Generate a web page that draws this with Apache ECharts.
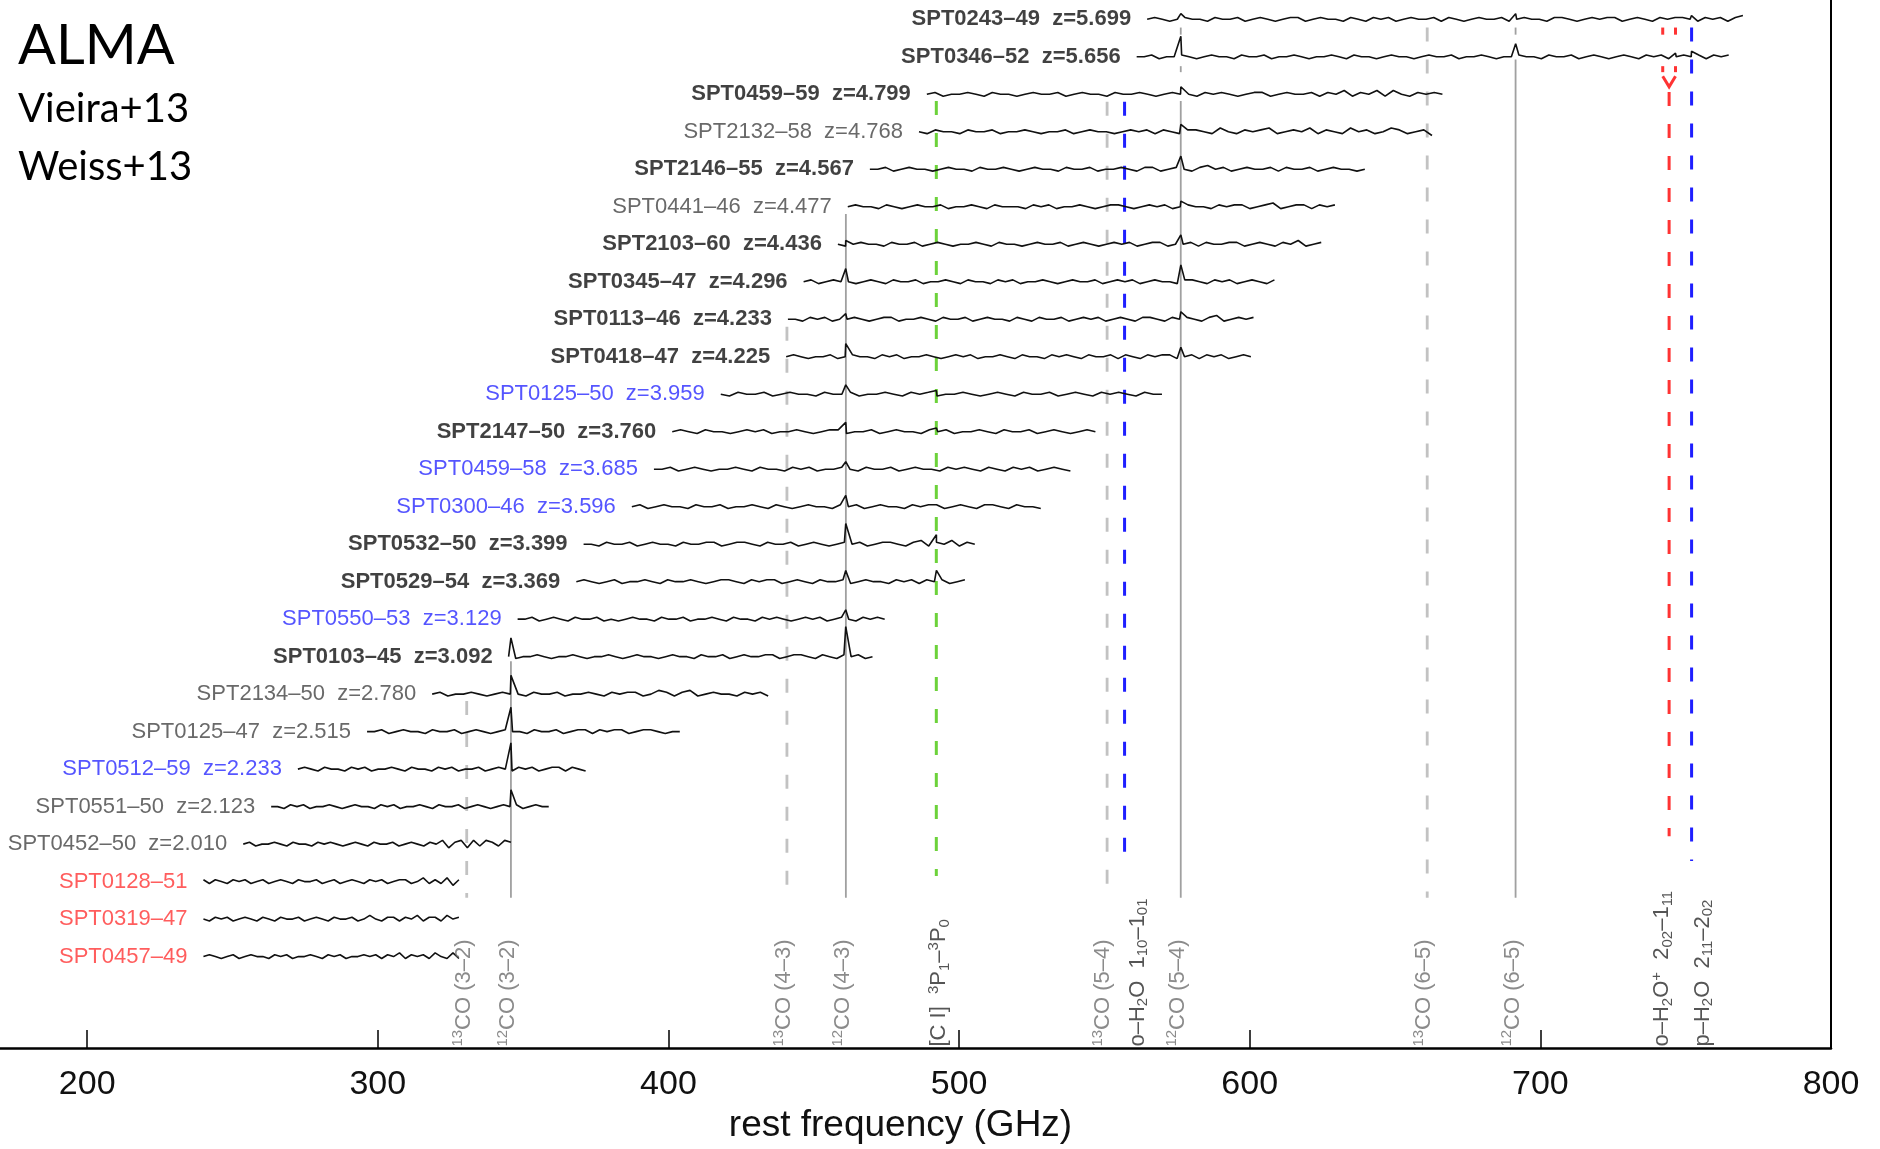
<!DOCTYPE html>
<html><head><meta charset="utf-8">
<script src="https://cdn.jsdelivr.net/npm/echarts@6/dist/echarts.min.js"></script>
<style>html,body{margin:0;padding:0;background:#fff;overflow:hidden}#c{width:100vw;height:100vh}</style>
</head><body><div id="c"></div>
<script>
// ---------------- data ----------------
const names = ['SPT0243–49','SPT0346–52','SPT0459–59','SPT2132–58','SPT2146–55','SPT0441–46','SPT2103–60','SPT0345–47','SPT0113–46','SPT0418–47','SPT0125–50','SPT2147–50','SPT0459–58','SPT0300–46','SPT0532–50','SPT0529–54','SPT0550–53','SPT0103–45','SPT2134–50','SPT0125–47','SPT0512–59','SPT0551–50','SPT0452–50','SPT0128–51','SPT0319–47','SPT0457–49'];
const redshifts = ['5.699','5.656','4.799','4.768','4.567','4.477','4.436','4.296','4.233','4.225','3.959','3.760','3.685','3.596','3.399','3.369','3.129','3.092','2.780','2.515','2.233','2.123','2.010','','',''];
const labelGroups = ['bold','bold','bold','normal','bold','normal','bold','bold','bold','bold','blue','bold','blue','blue','bold','bold','blue','bold','normal','normal','blue','normal','normal','red','red','red'];
// rest-frequency coverage of each spectrum (GHz)
const specStart = [564.7,561.1,488.9,486.2,469.3,461.7,458.3,446.5,441.1,440.5,418.0,401.3,395.0,387.4,370.8,368.3,348.1,345.0,318.7,296.3,272.5,263.3,253.7,240.0,240.0,240.0];
const specEnd   = [769.7,764.8,666.3,662.7,639.6,629.3,624.6,608.5,601.3,600.4,569.8,546.9,538.3,528.1,505.4,502.0,474.4,470.2,434.3,403.9,371.5,358.8,345.8,327.9,327.9,327.9];
// baseline flux samples (arbitrary units), evenly spread over each spectrum
const noise = [
[0,1,0,-1,0,1,0,0,-1,1,0,0,1,-1,0,1,0,-1,0,1,1,-1,0,1,0,0,-1,1,0,-1,1,0,1,-1,0,1,0,0,1,-1,1,0,-1,0,1,0,0,1,-1,0,1,0,0,-1,1,1,0,-1,0,1,0,1,1,-1,0,1,0,-1,1,0,1,1,0,-1,1,0,1,-1,1,2],
[0,0,1,-1,0,0,1,0,-1,0,1,0,0,-1,1,0,0,1,-1,0,0,1,0,-1,0,0,1,0,-1,1,0,0,-1,0,1,0,0,-1,0,1,0,0,1,-1,0,0,1,0,-1,0,0,1,0,0,-1,1,0,0,1,-1,0,1,0,-1,0,1,0,-1,1,0,1,-1,0,1,0,1,-1,1,0,1],
[0,1,-1,0,0,1,0,-1,1,0,0,-1,0,1,0,0,1,-1,0,1,0,0,-1,1,0,0,1,0,-1,0,1,0,0,-1,1,0,1,0,-1,0,1,1,-1,0,1,0,0,1,-1,1,0,2,-1,1,0,2,-1,2,0,-1,1,0,1,0],
[0,-1,1,0,0,-1,1,0,0,1,-1,0,0,1,0,-1,0,0,1,-1,0,1,0,0,-1,0,1,0,1,-1,1,0,-1,1,1,0,-1,2,0,-1,1,0,1,2,-1,0,1,0,2,-1,1,0,-1,2,0,1,-1,0,2,1,-1,0,1,-2],
[0,0,1,-1,0,1,0,0,-1,0,1,0,0,-1,1,0,0,1,0,-1,0,1,0,0,-1,1,0,0,1,-1,0,0,1,0,-1,1,1,-1,0,1,0,-1,1,2,0,1,-1,0,1,0,0,1,-1,1,0,0,1,-1,0,1,0,0,-1,0],
[0,1,0,0,-1,1,0,-1,0,1,0,0,1,-1,0,0,1,0,-1,1,0,0,0,-1,1,0,1,-1,0,0,1,0,-1,0,1,1,0,-1,0,1,0,1,-1,0,1,0,0,-1,1,0,1,1,-1,0,1,2,-1,0,1,1,-1,1,0,1],
[0,-1,0,1,0,0,-1,1,0,0,1,-1,0,1,0,-1,0,0,1,0,-1,1,0,0,-1,0,1,0,0,1,-1,0,1,0,-1,0,1,0,1,-1,0,1,1,-1,0,0,1,-1,1,0,0,1,1,-1,0,1,0,-1,1,0,2,-1,0,1],
[0,1,-1,0,1,0,0,-1,0,1,0,-1,1,0,0,1,-1,0,0,1,0,-1,1,0,0,-1,1,0,1,-1,0,0,1,0,-1,0,1,0,0,1,-1,0,1,0,1,-1,0,1,0,0,-1,1,1,0,-1,1,0,1,-1,0,1,0,-1,1],
[0,0,-1,1,0,1,-1,0,0,1,0,-1,0,1,1,-1,0,0,1,0,-1,1,0,0,1,-1,0,1,0,0,-1,1,0,-1,1,0,0,1,-1,0,1,0,1,-1,0,1,0,-1,1,1,0,-1,1,0,1,0,-1,1,2,-1,0,1,0,1],
[0,1,0,-1,0,0,1,-1,0,1,0,0,-1,1,0,1,-1,0,0,1,0,-1,0,1,0,1,-1,0,0,1,0,-1,1,0,0,-1,1,0,1,0,-1,1,0,0,1,-1,1,0,-1,1,0,1,1,-1,0,1,-1,1,0,1,-1,0,1,0],
[0,-1,1,0,0,1,-1,0,1,0,0,-1,1,0,0,1,-1,0,0,1,0,-1,1,0,1,-1,0,0,1,0,-1,0,1,0,-1,1,0,0,1,-1,0,1,0,-1,1,0,1,0,-1,1,0,0],
[0,1,0,-1,1,0,0,-1,0,1,0,1,-1,0,0,1,0,-1,0,1,1,-1,0,0,1,-1,0,1,0,0,-1,1,0,1,-1,0,0,1,0,-1,1,0,0,1,-1,0,1,0,-1,0,1,0],
[0,0,1,-1,0,1,0,-1,0,0,1,0,-1,1,0,0,-1,1,0,1,-1,0,0,1,0,-1,1,0,0,1,-1,0,1,0,0,-1,1,0,1,0,-1,1,0,-1,1,0,1,-1,0,1,0,-1],
[0,1,-1,0,1,0,0,-1,1,0,0,1,-1,0,0,1,0,-1,1,0,-1,0,1,0,0,-1,1,0,1,-1,0,1,0,0,-1,1,0,1,1,-1,0,1,0,-1,1,1,0,-1,1,0,0,-1],
[0,0,-1,1,0,0,1,-1,0,1,0,0,-1,1,0,0,1,1,-1,0,1,1,0,-1,1,0,0,1,-1,0,1,0,-1,0,1,0,1,-1,0,1,1,0,-1,1,2,-1,1,0,2,-1,1,0],
[0,1,0,-1,0,1,-1,0,0,1,0,-1,1,0,0,1,0,-1,0,1,1,0,-1,1,0,1,1,-1,0,1,0,-1,1,0,0,1,-1,0,1,0,0,-1,1,0,1,-1,1,0,1,-1,0,1],
[0,0,1,-1,0,1,0,-1,1,0,0,1,-1,0,-1,0,1,0,0,-1,1,0,0,1,-1,0,0,1,0,-1,1,0,0,-1,1,0,1,0,-1,0,1,0,1,-1,0,1,0,-1,1,0,1,0],
[0,-1,0,0,1,0,-1,0,0,1,0,-1,0,0,1,0,-1,0,1,0,0,-1,0,1,0,0,-1,1,0,0,1,-1,0,1,0,0,1,1,-1,0,1,1,0,-1,1,0,-1,1,0,1,-1,0],
[0,1,-1,0,0,1,0,-1,0,1,0,0,-1,1,0,0,1,-1,0,0,1,0,-1,1,0,1,1,-1,0,2,1,-1,1,2,-1,0,1,0,0,-1,1,0,1,-1],
[0,0,1,-1,0,1,0,0,-1,1,0,0,1,-1,0,1,0,-1,0,1,0,0,-1,1,0,0,1,-1,0,1,1,-1,1,0,1,1,-1,0,1,1,0,-1,0,0],
[0,1,0,-1,1,0,0,-1,1,0,1,-1,0,0,1,0,-1,1,0,0,-1,1,0,1,-1,0,0,1,-1,0,1,0,-1,1,0,1,-1,0,1,1,-1,1,0,-1],
[0,0,-1,1,0,1,-1,0,0,1,0,-1,0,1,0,0,-1,1,0,1,-1,0,0,1,0,-1,1,0,0,1,-1,0,1,0,-1,0,1,0,1,-1,0,1,0,0],
[0,1,-1,0,0,1,0,-1,1,0,0,-1,1,0,1,0,-1,0,1,0,-1,1,0,0,1,-1,0,1,0,-1,1,0,2,-2,1,2,-2,2,-1,2,1,-1,2,1],
[1,-1,1,0,-1,1,0,1,-1,0,1,-1,0,1,0,-1,1,0,0,1,-1,0,1,-1,0,1,0,-1,1,0,1,-1,0,1,1,-1,0,2,-1,1,-1,2,-2,1],
[0,-1,1,0,1,-1,0,1,0,-1,1,0,-1,1,0,0,1,-1,0,1,0,-1,1,0,0,1,-1,0,2,0,-1,1,1,-1,1,0,2,-1,1,1,-1,2,0,1],
[0,1,0,-1,0,1,-1,0,1,0,0,-1,1,0,1,-1,0,0,1,0,-1,1,0,1,-1,0,0,1,0,1,-1,1,0,2,-1,1,0,1,-1,2,0,-1,2,-1]
];
// emission peaks [rest freq GHz, flux]
const peaks = [
[[576.3,3],[691.5,3],[752.0,2]],
[[576.3,11],[691.5,7],[746.5,2],[752.0,3]],
[[576.3,4]],[[576.3,4]],[[576.3,7]],[[576.3,3]],
[[461.0,2],[576.3,5]],[[461.0,7],[576.3,9]],[[461.0,3],[576.3,4]],[[461.0,7],[576.3,5]],
[[461.0,5],[492.2,2]],[[461.0,5],[492.2,2]],[[461.0,4]],[[461.0,6]],
[[461.0,11],[492.2,5]],[[461.0,6],[492.2,6]],[[461.0,5]],[[345.8,10],[461.0,16]],
[[345.8,10],[407.5,3]],[[345.8,13]],[[345.8,14]],[[345.8,9]],[],[],[],[]
];
// spectral lines
const lineFreqs = [330.588,345.796,440.765,461.041,492.161,550.926,556.936,576.268,661.067,691.473,744.3,752.033];
const lineKinds = ['coDash','coSolid','coDash','coSolid','green','coDash','blue','coSolid','coDash','coSolid','red','blue'];
const lineLabels = [
 '{sup|13}{b|CO (3–2)}','{sup|12}{b|CO (3–2)}','{sup|13}{b|CO (4–3)}','{sup|12}{b|CO (4–3)}',
 '{b|[C I]  }{sup|3}{b|P}{sub|1}{b|–}{sup|3}{b|P}{sub|0}',
 '{sup|13}{b|CO (5–4)}','{b|o–H}{sub|2}{b|O  1}{sub|10}{b|–1}{sub|01}',
 '{sup|12}{b|CO (5–4)}','{sup|13}{b|CO (6–5)}','{sup|12}{b|CO (6–5)}',
 '{b|o–H}{sub|2}{b|O}{sup|+}{b|  2}{sub|02}{b|–1}{sub|11}','{b|p–H}{sub|2}{b|O  2}{sub|11}{b|–2}{sub|02}'
];
const h2oPlusSplit = [742.1, 746.5];
const xTicks = [200,300,400,500,600,700,800];

// ---------------- layout / style ----------------
const SANS = "'Liberation Sans',Arial,sans-serif";
const K = 0.05;              // row units per flux unit
// vertical extent of each line marker (row units)
const lineSpans = [
 [[18.18,23.43]],[[17.12,23.43]],[[8.2,23.43]],[[5.19,23.43]],[[2.18,22.85]],
 [[2.2,23.43]],[[2.2,22.45]],[[0.22,0.41],[1.25,1.41],[2.18,23.43]],
 [[0.22,23.43]],[[0.22,0.41],[1.07,23.43]],[[1.94,21.79]],[[0.22,22.45]]
];
const kindStyle = {
  coDash:{color:'#c2c2c2',width:2.8,type:[14,18],opacity:1},
  coSolid:{color:'#a0a0a0',width:1.8,type:'solid',opacity:1},
  green:{color:'#6cd23a',width:3,type:[14,18],opacity:1},
  blue:{color:'#1f1fff',width:3,type:[14,18],opacity:1},
  red:{color:'#ff3333',width:3,type:[14,18],opacity:1}
};
const labelDx = [-3,-3,-3,-3,3,-4,13,-3,-3,-3,-7,11];
const groupStyle = {
  bold:{color:'#111',fontWeight:'bold'},
  normal:{color:'#444',fontWeight:'normal'},
  blue:{color:'#2b2bff',fontWeight:'normal'},
  red:{color:'#ff3535',fontWeight:'normal'}
};

const series = [];
// spectra
names.forEach((nm,i)=>{
  const n = noise[i], s = specStart[i], e = specEnd[i];
  const pts = n.map((v,j)=>[s + j*(e-s)/(n.length-1), v]);
  peaks[i].forEach(p=>pts.push(p));
  pts.sort((a,b)=>a[0]-b[0]);
  series.push({type:'line', data:pts.map(p=>[p[0], i - p[1]*K]), symbol:'none', silent:true, animation:false, z:5,
    lineStyle:{color:'#111', width:1.6}});
});
// row labels
series.push({type:'scatter', symbolSize:0, silent:true, animation:false, z:6,
  data:names.map((nm,i)=>({value:[specStart[i], i], label:Object.assign({show:true, position:'left', distance:16,
    formatter: redshifts[i] ? nm + '  z=' + redshifts[i] : nm, fontFamily:SANS, fontSize:22}, groupStyle[labelGroups[i]])}))
});
// line markers
const lineData = [];
lineFreqs.forEach((f,k)=>{
  lineSpans[k].forEach(sp=>{
    const st = Object.assign({}, kindStyle[lineKinds[k]]);
    if (sp[1]-sp[0] < 0.3) st.type = 'solid';
    lineData.push({coords:[[f,sp[0]],[f,sp[1]]], lineStyle:st});
  });
});
h2oPlusSplit.forEach(f=>{
  [[0.22,0.41],[1.25,1.41]].forEach(sp=>lineData.push({coords:[[f,sp[0]],[f,sp[1]]], lineStyle:Object.assign({}, kindStyle.red, {type:'solid'})}));
});
lineData.push({coords:[[h2oPlusSplit[0],1.52],[lineFreqs[10],1.8],[h2oPlusSplit[1],1.52]], lineStyle:Object.assign({}, kindStyle.red, {type:'solid'})});
series.push({type:'lines', coordinateSystem:'cartesian2d', polyline:true, silent:true, animation:false, z:2, data:lineData});
// line labels
series.push({type:'scatter', symbolSize:0, silent:true, animation:false, z:6,
  data:lineFreqs.map((f,k)=>({value:[f, 27.4], label:{show:true, position:'inside', rotate:90, align:'left', verticalAlign:'middle',
    offset:[0, labelDx[k]], formatter:lineLabels[k], fontFamily:SANS, fontSize:22,
    color: (lineKinds[k]==='coDash'||lineKinds[k]==='coSolid') ? '#6e6e6e' : '#2a2a2a',
    rich:{b:{fontSize:22, lineHeight:26}, sup:{fontSize:15, lineHeight:15, verticalAlign:'top'}, sub:{fontSize:15, lineHeight:15, verticalAlign:'bottom'}}}}))
});

const chart = echarts.init(document.getElementById('c'));
chart.setOption({
  animation:false,
  backgroundColor:'#fff',
  grid:{left:0, right:49, top:0, bottom:90},
  xAxis:{type:'value', min:170, max:800,
    axisLine:{show:true, onZero:false, lineStyle:{color:'#000', width:2.5}},
    axisTick:{show:true, inside:true, length:18, lineStyle:{color:'#000', width:1.5}, customValues:xTicks},
    axisLabel:{show:true, customValues:xTicks, fontSize:34, fontFamily:SANS, color:'#111', margin:20},
    splitLine:{show:false},
    name:'rest frequency (GHz)', nameLocation:'middle', nameGap:58,
    nameTextStyle:{fontSize:37, fontFamily:SANS, color:'#111', padding:[0,30,0,0]}},
  yAxis:[
    {type:'value', min:-0.5148, max:27.441, inverse:true, show:false},
    {type:'value', position:'right', min:0, max:1, axisLine:{show:true, onZero:false, lineStyle:{color:'#000', width:2}},
      axisTick:{show:false}, axisLabel:{show:false}, splitLine:{show:false}}
  ],
  graphic:[
    {type:'text', left:18, top:18, style:{text:'ALMA', font:'56px Lato', fill:'#000'}},
    {type:'text', left:18, top:89, style:{text:'Vieira+13', font:'40px Lato', fill:'#000'}},
    {type:'text', left:18, top:147, style:{text:'Weiss+13', font:'40px Lato', fill:'#000'}}
  ],
  series:series
});
</script></body></html>
